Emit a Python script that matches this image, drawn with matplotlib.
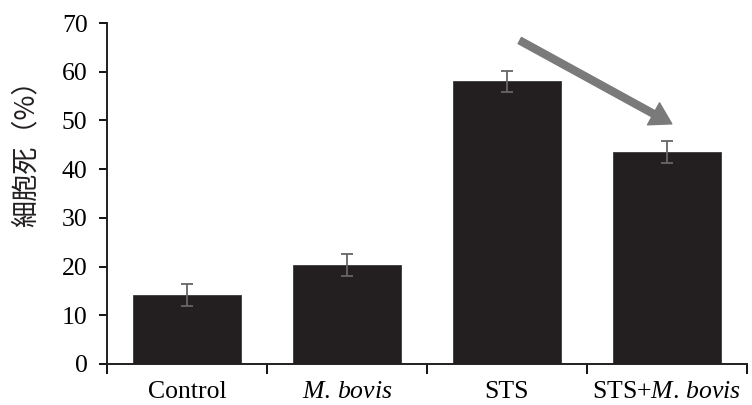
import matplotlib
matplotlib.use("Agg")
import matplotlib.pyplot as plt
import numpy as np

# Data
categories = ["Control", r"$\mathit{M.\,bovis}$", "STS", r"STS+$\mathit{M.\,bovis}$"]
cell_death = [14.2, 20.3, 58.0, 43.5]
errors = [2.2, 2.2, 2.2, 2.2]
y_ticks = [0, 10, 20, 30, 40, 50, 60, 70]
y_label = "細胞死（%）"

# arrow from above STS towards STS+M. bovis (data coords)
arrow_start = (2.08, 66.4)
arrow_end = (3.03, 49.3)

plt.rcParams["font.family"] = ["Liberation Serif", "DejaVu Serif"]
plt.rcParams["mathtext.fontset"] = "custom"
plt.rcParams["mathtext.rm"] = "Liberation Serif"
plt.rcParams["mathtext.it"] = "Liberation Serif:italic"

fig = plt.figure(figsize=(7.52, 4.05), dpi=100)
ax = fig.add_axes([107 / 752, 1 - 364 / 405, 640 / 752, 341 / 405])

x = np.arange(len(categories))
ax.bar(x, cell_death, width=0.68, color="#231f20", edgecolor="#3a3a3a", linewidth=0.6, zorder=2)
ax.errorbar(x, cell_death, yerr=errors, fmt="none", ecolor="#666666",
            elinewidth=1.3, capsize=4, capthick=1.3, zorder=3)

ax.annotate("", xy=arrow_end, xytext=arrow_start,
            arrowprops=dict(facecolor="#7a7a7a", edgecolor="#7a7a7a",
                            width=5, headwidth=18, headlength=15, shrink=0))

ax.set_xlim(-0.5, len(categories) - 0.5)
ax.set_ylim(0, 70)
ax.set_yticks(y_ticks)

# tick marks at group boundaries, labels at centres
ax.set_xticks(np.arange(len(categories) + 1) - 0.5)
ax.set_xticklabels([])
ax.set_xticks(x, minor=True)
ax.set_xticklabels(categories, minor=True)
ax.tick_params(axis="x", which="major", length=7, width=1.3, direction="out")
ax.tick_params(axis="x", which="minor", length=0, pad=12, labelsize=18.5)
ax.tick_params(axis="y", length=6, width=1.3, direction="out", pad=8, labelsize=18.5)

for s in ["top", "right"]:
    ax.spines[s].set_visible(False)
for s in ["left", "bottom"]:
    ax.spines[s].set_linewidth(1.4)
    ax.spines[s].set_color("#231f20")

ax.set_ylabel(y_label, fontsize=19.5, family=["Noto Sans CJK JP", "DejaVu Sans"], color="#231f20")
ax.yaxis.set_label_coords(-0.105, 0.636)

fig.savefig("out.png", dpi=100)
